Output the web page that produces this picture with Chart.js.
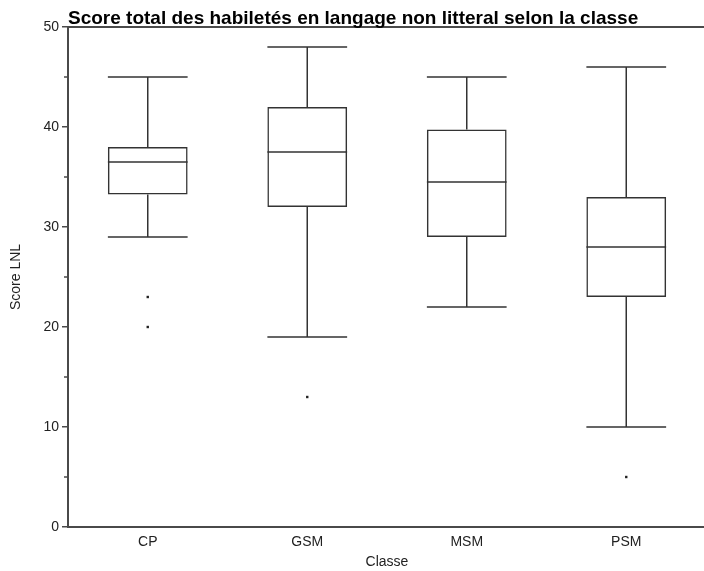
<!DOCTYPE html>
<html><head><meta charset="utf-8">
<script src="https://cdn.jsdelivr.net/npm/chart.js@4.4.1/dist/chart.umd.min.js"></script>
<style>html,body{margin:0;padding:0;overflow:hidden;background:#fff}</style>
</head><body>
<canvas id="c" width="710" height="571"></canvas>
<script>
// ---- data ----
const categories = ['CP', 'GSM', 'MSM', 'PSM'];
const whiskerLow  = [29, 19, 22, 10];
const q1          = [33.25, 32, 29, 23];
const median      = [36.5, 37.5, 34.5, 28];
const q3          = [38, 42, 39.75, 33];
const whiskerHigh = [45, 48, 45, 46];
const outliers    = [[23, 20], [13], [], [5]];
const yMin = 0, yMax = 50, yStep = 10, yMinorStep = 5;
const titleText = 'Score total des habiletés en langage non litteral selon la classe';
const xTitle = 'Classe';
const yTitle = 'Score LNL';

// ---- styles ----
const INK = '#333333';
const AXIS = '#4a4a4a';
const FONT = "Arial, 'Liberation Sans', sans-serif";
const LW = 1.5;

const outlierPoints = [];
outliers.forEach((arr, i) => arr.forEach(v => outlierPoints.push({x: categories[i], y: v})));

const boxPlugin = {
  id: 'boxParts',
  afterDatasetsDraw(chart) {
    const ctx = chart.ctx;
    const ys = chart.scales.y;
    const meta = chart.getDatasetMeta(0);
    ctx.save();
    ctx.strokeStyle = INK;
    ctx.lineWidth = LW;
    meta.data.forEach((el, i) => {
      const x = el.x, hw = el.width / 2;
      const pHi = ys.getPixelForValue(whiskerHigh[i]);
      const pLo = ys.getPixelForValue(whiskerLow[i]);
      const pQ1 = ys.getPixelForValue(q1[i]);
      const pQ3 = ys.getPixelForValue(q3[i]);
      const pMed = ys.getPixelForValue(median[i]);
      ctx.beginPath();
      ctx.moveTo(x, pQ3); ctx.lineTo(x, pHi);
      ctx.moveTo(x - hw, pHi); ctx.lineTo(x + hw, pHi);
      ctx.moveTo(x, pQ1); ctx.lineTo(x, pLo);
      ctx.moveTo(x - hw, pLo); ctx.lineTo(x + hw, pLo);
      ctx.moveTo(x - hw, pMed); ctx.lineTo(x + hw, pMed);
      ctx.stroke();
    });
    ctx.restore();
  },
  afterDraw(chart) {
    const ctx = chart.ctx;
    const a = chart.chartArea;
    const ys = chart.scales.y;
    ctx.save();
    ctx.strokeStyle = AXIS;
    ctx.lineWidth = 2;
    ctx.beginPath();
    ctx.moveTo(a.left - 1, a.top);
    ctx.lineTo(a.right, a.top);
    ctx.lineTo(a.right, a.bottom);
    ctx.stroke();
    ctx.lineWidth = 1.5;
    ctx.beginPath();
    for (let v = yMin + yMinorStep; v < yMax; v += yStep) {
      const p = ys.getPixelForValue(v);
      ctx.moveTo(a.left - 4, p); ctx.lineTo(a.left, p);
    }
    ctx.stroke();
    ctx.fillStyle = '#000';
    ctx.font = "bold 19px " + FONT;
    ctx.textBaseline = 'alphabetic';
    ctx.textAlign = 'left';
    ctx.fillText(titleText, a.left, 24);
    ctx.restore();
  }
};

new Chart(document.getElementById('c'), {
  data: {
    labels: categories,
    datasets: [
      {
        type: 'bar',
        data: q1.map((v, i) => [v, q3[i]]),
        backgroundColor: 'rgba(255,255,255,0)',
        borderColor: INK,
        borderWidth: LW,
        borderSkipped: false,
        grouped: false,
        barPercentage: 0.5,
        categoryPercentage: 1.0
      },
      {
        type: 'line',
        data: outlierPoints,
        showLine: false,
        pointStyle: 'rect',
        pointRadius: 1.7,
        pointBackgroundColor: '#222',
        pointBorderWidth: 0
      }
    ]
  },
  plugins: [boxPlugin],
  options: {
    responsive: false,
    animation: false,
    events: [],
    layout: { padding: { top: 27, right: 4, left: 0, bottom: 0 } },
    plugins: { legend: { display: false }, tooltip: { enabled: false }, title: { display: false } },
    scales: {
      x: {
        type: 'category',
        grid: { display: false, drawTicks: false },
        border: { display: true, color: AXIS, width: 2 },
        ticks: { color: '#222', font: { family: FONT, size: 14 }, padding: 7 },
        title: { display: true, text: xTitle, color: '#222', font: { family: FONT, size: 14 }, padding: { top: 0, bottom: 0 } },
        afterFit(s) { s.height = 44; }
      },
      y: {
        type: 'linear',
        min: yMin, max: yMax,
        ticks: { stepSize: yStep, color: '#222', font: { family: FONT, size: 14 }, padding: 3 },
        grid: { drawOnChartArea: false, drawTicks: true, tickLength: 6, color: AXIS, lineWidth: 1.5 },
        border: { display: true, color: AXIS, width: 2 },
        title: { display: true, text: yTitle, color: '#222', font: { family: FONT, size: 14 }, padding: { top: 8, bottom: 0 } },
        afterFit(s) { s.width = 68; }
      }
    }
  }
});
</script>
</body></html>
